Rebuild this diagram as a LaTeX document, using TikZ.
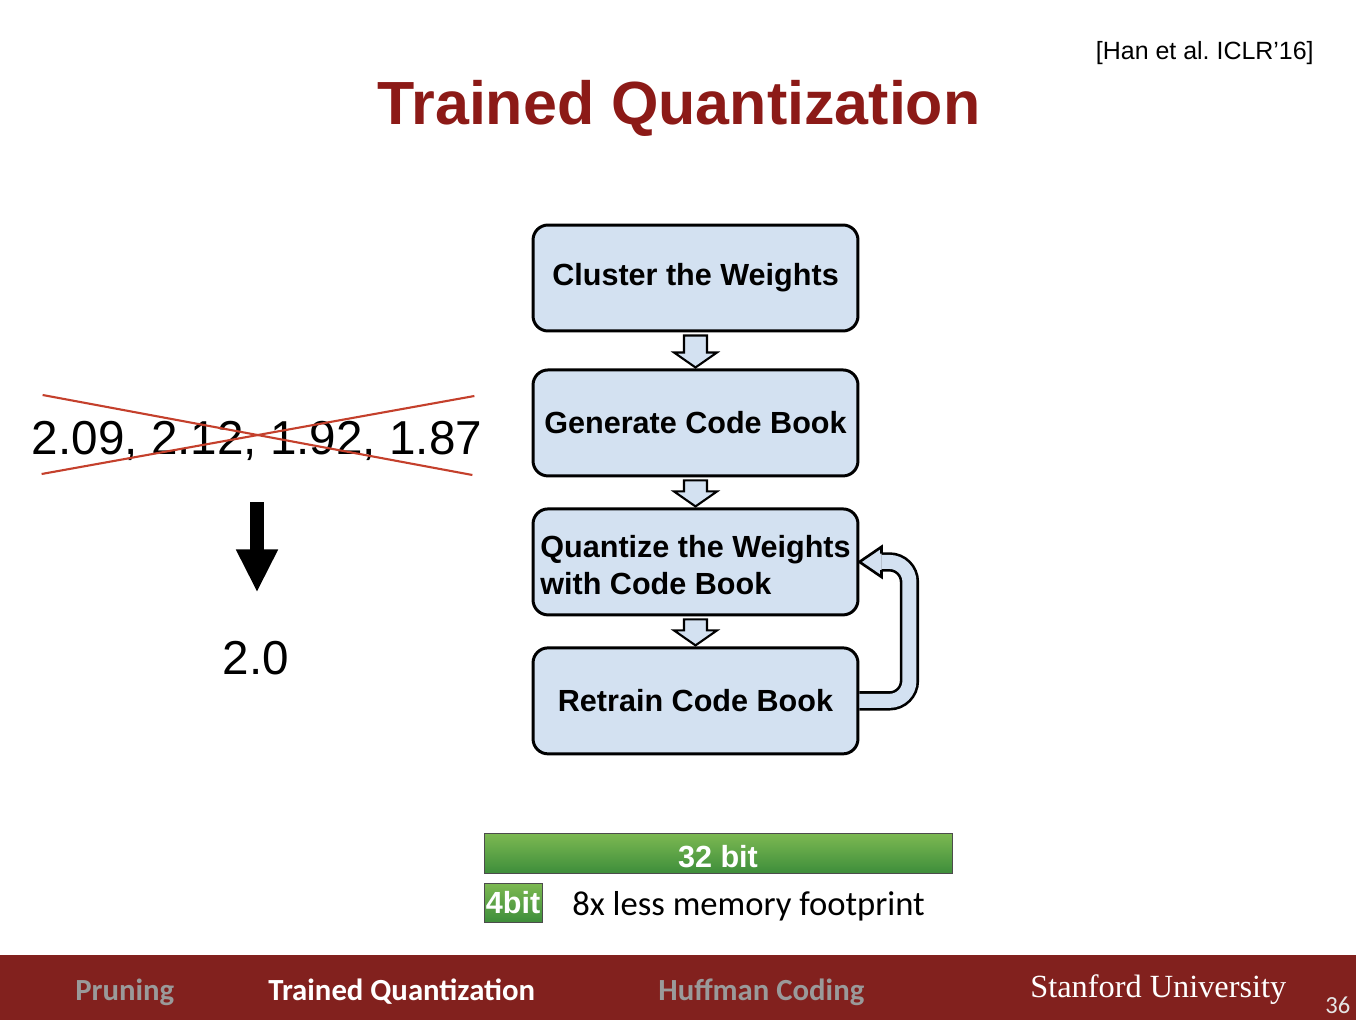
\documentclass[tikz,border=0pt]{standalone}
\usepackage{fontspec}
\setmainfont{Liberation Sans}
\newfontfamily\navfont{Carlito}
\newfontfamily\unifont{Liberation Serif}
\usetikzlibrary{positioning,calc,arrows.meta}
\definecolor{titleRed}{HTML}{8C1A17}
\definecolor{bandRed}{HTML}{82211E}
\definecolor{boxBlue}{HTML}{D3E1F1}
\definecolor{crossRed}{HTML}{C4402C}
\definecolor{barTop}{HTML}{7DB952}
\definecolor{barBottom}{HTML}{3E8E3B}
\definecolor{navGray}{HTML}{9A9A9A}
\frenchspacing

\begin{document}
\begin{tikzpicture}[x=0.02cm, y=-0.02cm]
\tikzstyle{box}=[draw, line width=1.7pt, rounded corners=0.3cm, fill=boxBlue, minimum width=6.5cm, minimum height=2.12cm, align=center, font=\bfseries\fontsize{17.4pt}{20.9pt}\selectfont]
\tikzstyle{flowarrow}=[draw, line width=1.2pt, fill=boxBlue, line join=miter]
\tikzstyle{bar}=[draw=black!70, line width=0.5pt, top color=barTop, bottom color=barBottom, text=white, inner sep=0pt, font=\bfseries\fontsize{17.4pt}{20pt}\selectfont]
\tikzstyle{navitem}=[anchor=base west, inner sep=0pt, font=\navfont\bfseries\fontsize{17.5pt}{20pt}\selectfont]
\tikzstyle{number}=[anchor=base, inner sep=0pt, font=\fontsize{27.1pt}{30pt}\selectfont]
\useasboundingbox (0,0) rectangle (1356,1020);

% title and reference
\node[anchor=base, inner sep=0pt, text=titleRed, font=\bfseries\fontsize{34.7pt}{40pt}\selectfont] (title) at (679,125) {Trained Quantization};
\node[anchor=base east, inner sep=0pt, font=\fontsize{14.2pt}{16pt}\selectfont] (cite) at (1314,60) {[Han et al. ICLR’16]};

% weights sharing one value
\node[number] (weights) at (257,455) {2.09, 2.12, 1.92, 1.87};
\node[number] (shared) at (256,674) {2.0};
\draw[crossRed, line width=1.2pt] ([shift={(11,-60)}]weights.base west) -- ([shift={(-10,20)}]weights.base east);
\draw[crossRed, line width=1.2pt] ([shift={(10,19)}]weights.base west) -- ([shift={(-8,-59)}]weights.base east);
\draw[line width=8.5pt, -{Triangle[width=0.78cm,length=0.86cm]}, shorten <=0.82cm, shorten >=0.96cm] (weights.south) -- (weights.south |- shared.north);

% flow of steps
\node[box] (cluster) at (695.5,278) {Cluster the Weights};
\node[box, below=0.72cm of cluster] (generate) {Generate Code Book};
\node[box, below=0.6cm of generate, align=left, text height=1.3cm, text depth=0cm] (quantize) {Quantize the Weights\\with Code Book};
\node[box, below=0.6cm of quantize] (retrain) {Retrain Code Book};
\foreach \a/\b in {cluster/generate, generate/quantize, quantize/retrain}
  \draw[flowarrow] ($(\a.south)+(-11.5,3)$) -- ($(\b.north)+(-11.5,-16)$) -- ($(\b.north)+(-21.5,-16)$) -- ($(\b.north)+(0,-1)$) -- ($(\b.north)+(21.5,-16)$) -- ($(\b.north)+(11.5,-16)$) -- ($(\a.south)+(11.5,3)$) -- cycle;
\draw[double=boxBlue, double distance=0.28cm, line width=1.5pt, rounded corners=0.4cm] (retrain.east) -- ++(50,0) |- ([shift={(22,0)}]quantize.east);
\filldraw[fill=boxBlue, line width=1.5pt, line join=miter] ([shift={(22,-8.3)}]quantize.east) -- ([shift={(22,-15)}]quantize.east) -- (quantize.east) -- ([shift={(22,15)}]quantize.east) -- ([shift={(22,8.3)}]quantize.east);

% bit widths
\node[bar, minimum width=9.36cm, minimum height=0.8cm, text height=0.57cm, text depth=0cm] (full) at (718,853) {32 bit};
\node[bar, minimum width=1.16cm, minimum height=0.78cm] (quant) at (513,902.5) {4bit};
\node[anchor=base west, inner sep=0pt, font=\navfont\fontsize{19.7pt}{22pt}\selectfont] (saving) at (572,915) {8x less memory footprint};

% footer
\fill[bandRed] (0,955) rectangle (1356,1020);
\node[navitem, text=navGray] (pruning) at (75,1000) {Pruning};
\node[navitem, text=white] (current) at (268,1000) {Trained Quantization};
\node[navitem, text=navGray] (huffman) at (658,1000) {Huffman Coding};
\node[anchor=base west, inner sep=0pt, text=white, font=\unifont\fontsize{18.4pt}{20pt}\selectfont] (stanford) at (1030,997) {Stanford University};
\node[anchor=base west, inner sep=0pt, text=white!80!gray, font=\navfont\fontsize{14pt}{16pt}\selectfont] (page) at (1325,1013) {36};
\end{tikzpicture}
\end{document}
